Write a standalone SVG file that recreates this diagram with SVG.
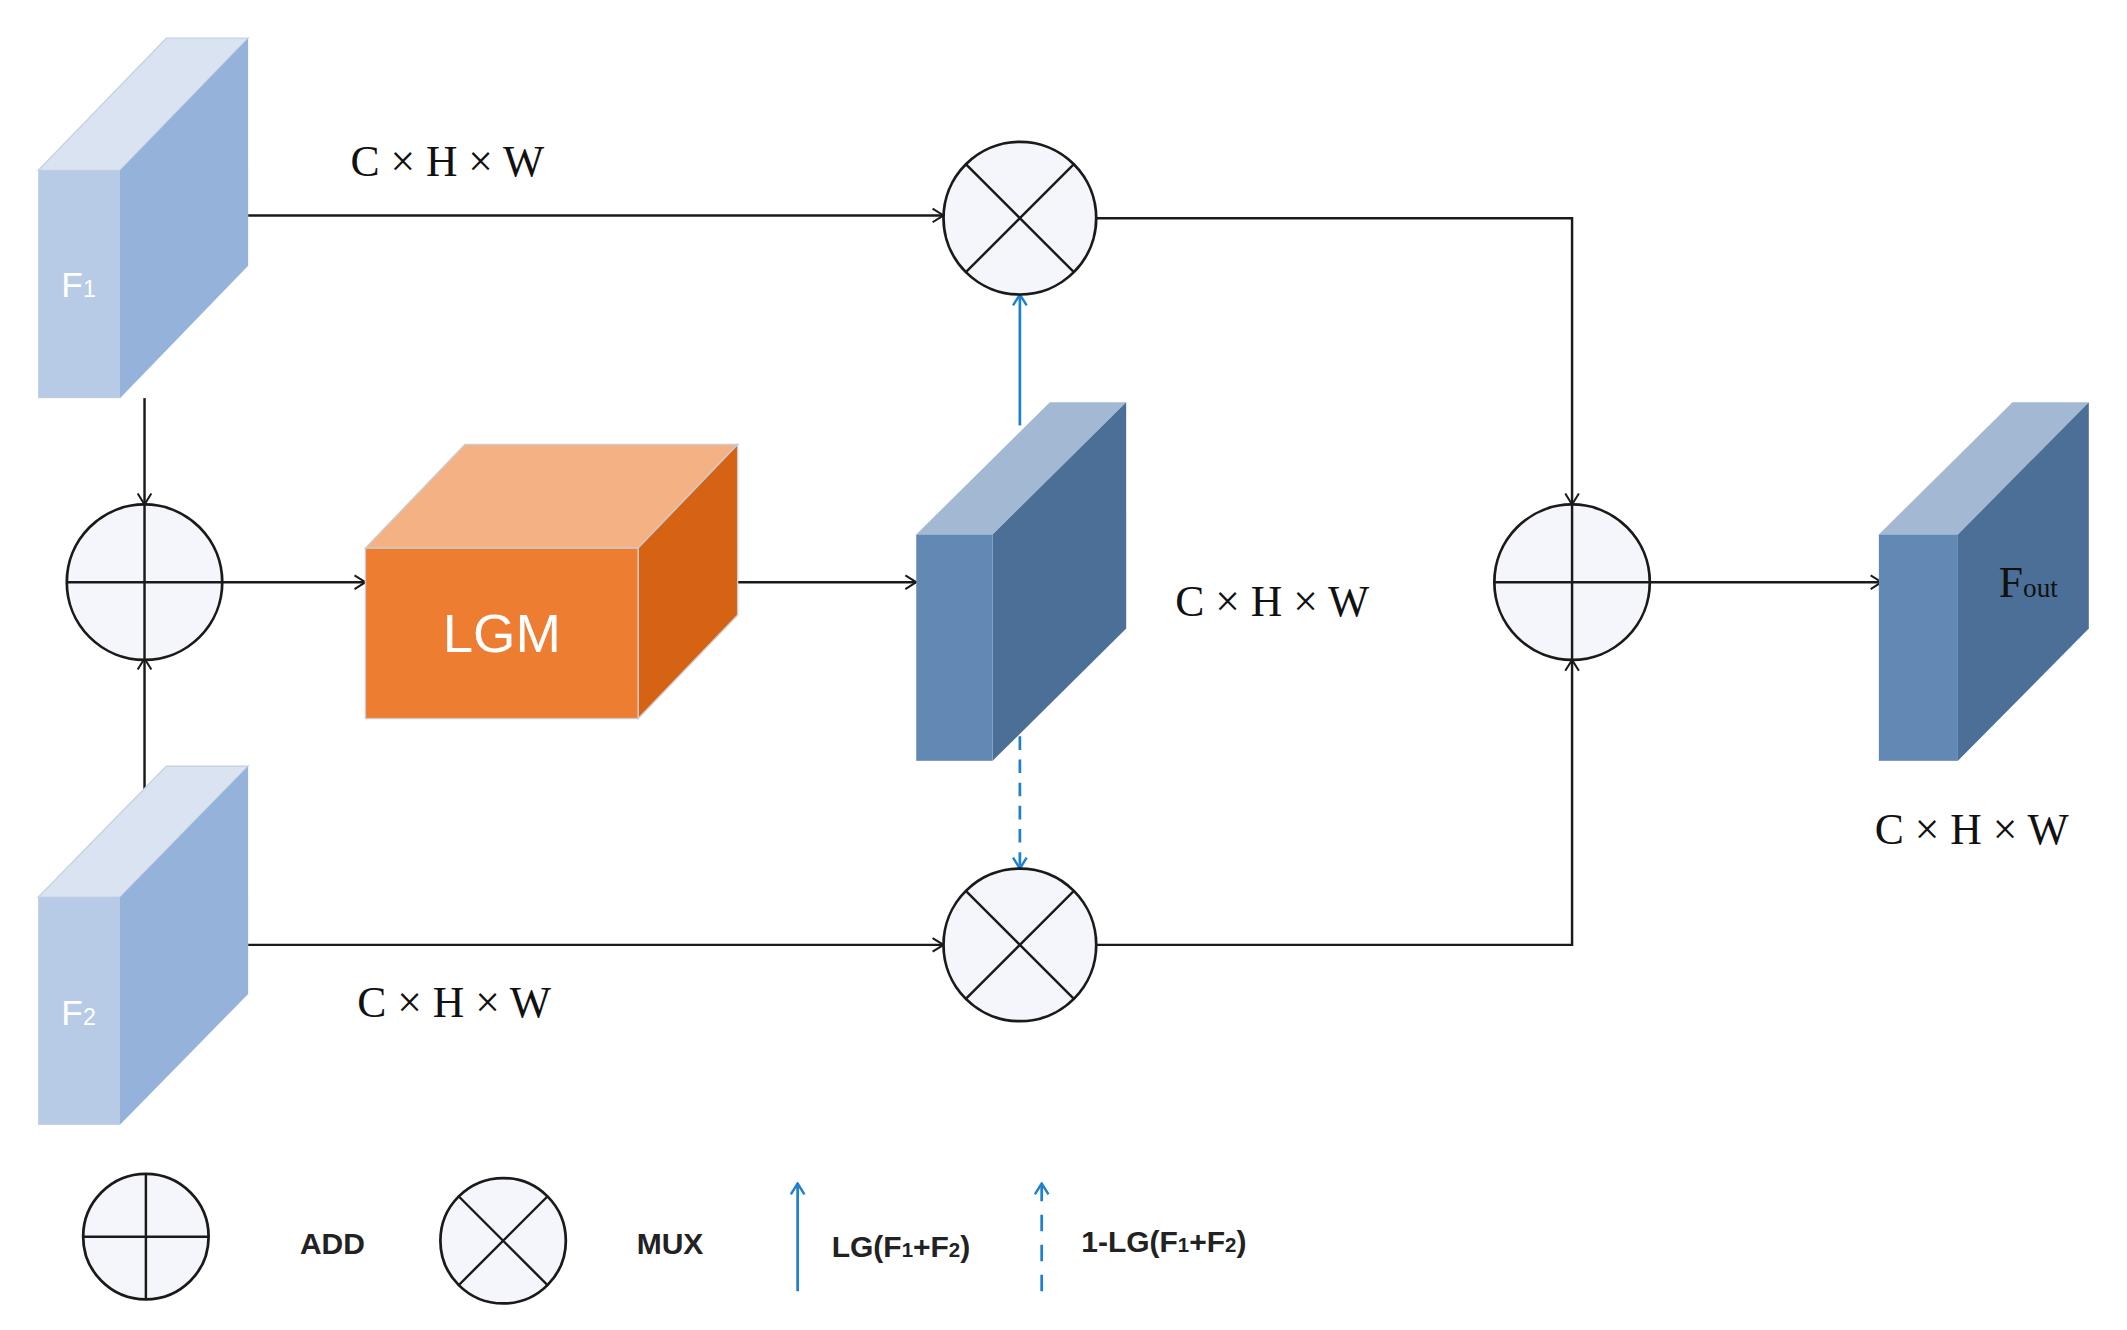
<svg xmlns="http://www.w3.org/2000/svg" width="2127" height="1330" viewBox="0 0 2127 1330">
<style>
.ln{fill:none;stroke:#1a1a1a;stroke-width:1.8}
.bl{fill:none;stroke:#2080D0;stroke-width:2}
.op{fill:#F4F6FB;stroke:#1a1a1a;stroke-width:2}
.dim{font-family:"Liberation Serif",serif;font-size:32px;fill:#111}
.lg{font-family:"Liberation Sans",sans-serif;font-size:22px;fill:#222;font-weight:bold}
.fl{font-family:"Liberation Sans",sans-serif;font-size:26px;fill:#fff}
</style>
<defs>
<marker id="a" markerWidth="10" markerHeight="12" refX="9" refY="6" orient="auto" markerUnits="userSpaceOnUse"><path d="M1,1 L9,6 L1,11" fill="none" stroke="#1a1a1a" stroke-width="1.5"/></marker>
<marker id="b" markerWidth="10" markerHeight="12" refX="9" refY="6" orient="auto" markerUnits="userSpaceOnUse"><path d="M1,1 L9,6 L1,11" fill="none" stroke="#2080D0" stroke-width="1.8"/></marker>
</defs>
<rect width="2127" height="1330" fill="#fff"/>
<g transform="scale(1.36346)">
<g id="connectors">
<path class="ln" d="M182,158 H692" marker-end="url(#a)"/>
<path class="ln" d="M182,693 H692" marker-end="url(#a)"/>
<path class="ln" d="M106,292 V370" marker-end="url(#a)"/>
<path class="ln" d="M106,585 V483" marker-end="url(#a)"/>
<path class="ln" d="M163,427 H268" marker-end="url(#a)"/>
<path class="ln" d="M541,427 H672" marker-end="url(#a)"/>
<path class="ln" d="M804,160 H1153 V370" marker-end="url(#a)"/>
<path class="ln" d="M804,693 H1153 V484" marker-end="url(#a)"/>
<path class="ln" d="M1210,427 H1380" marker-end="url(#a)"/>
<path class="bl" d="M748,312 V216" marker-end="url(#b)"/>
<path class="bl" d="M748,540 V637" stroke-dasharray="10,7" marker-end="url(#b)"/>
</g>
<g id="F1">
<polygon points="28,125 122,28 182,28 88,125" fill="#DAE3F1" stroke="#c8d2e0"/>
<polygon points="88,125 182,28 182,195 88,292" fill="#95B3DA"/>
<rect x="28" y="125" width="60" height="167" fill="#B7CBE6"/>
<text class="fl" x="45" y="218">F<tspan font-size="17">1</tspan></text>
</g>
<g id="F2">
<polygon points="28,658 122,562 182,562 88,658" fill="#DAE3F1" stroke="#c8d2e0"/>
<polygon points="88,658 182,562 182,729 88,825" fill="#95B3DA"/>
<rect x="28" y="658" width="60" height="167" fill="#B7CBE6"/>
<text class="fl" x="45" y="752">F<tspan font-size="17">2</tspan></text>
</g>
<g id="add1"><circle class="op" cx="106" cy="427" r="57"/><path class="ln" d="M49,427 H163 M106,370 V484"/></g>
<g id="LGM">
<polygon points="268,402 341,326 541,326 468,402" fill="#F4B183" stroke="#ccc"/>
<polygon points="468,402 541,326 541,451 468,527" fill="#D66214" stroke="#ccc"/>
<rect x="268" y="402" width="200" height="125" fill="#ED7D31" stroke="#ccc"/>
<text x="368" y="478" text-anchor="middle" font-family="Liberation Sans,sans-serif" font-size="40" fill="#fff">LGM</text>
</g>
<g id="gate">
<polygon points="672,392 770,295 826,295 728,392" fill="#A3B8D3"/>
<polygon points="728,392 826,295 826,461 728,558" fill="#4B6F97"/>
<rect x="672" y="392" width="56" height="166" fill="#6189B4"/>
</g>
<g id="mux1"><circle class="op" cx="748" cy="160" r="56"/><path class="ln" d="M708,120 L788,200 M788,120 L708,200"/></g>
<g id="mux2"><circle class="op" cx="748" cy="693" r="56"/><path class="ln" d="M708,653 L788,733 M788,653 L708,733"/></g>
<g id="add2"><circle class="op" cx="1153" cy="427" r="57"/><path class="ln" d="M1096,427 H1210 M1153,370 V484"/></g>
<g id="Fout">
<polygon points="1378,392 1476,295 1532,295 1436,392" fill="#A3B8D3"/>
<polygon points="1436,392 1532,295 1532,461 1436,558" fill="#4B6F97"/>
<rect x="1378" y="392" width="58" height="166" fill="#6189B4"/>
<text x="1466" y="438" font-family="Liberation Serif,serif" font-size="32" fill="#111">F<tspan font-size="20">out</tspan></text>
</g>
<g id="labels">
<text class="dim" x="257" y="129">C × H × W</text>
<text class="dim" x="862" y="452">C × H × W</text>
<text class="dim" x="1375" y="619">C × H × W</text>
<text class="dim" x="262" y="746">C × H × W</text>
</g>
<g id="legend">
<circle class="op" cx="107" cy="907" r="46"/><path class="ln" d="M61,907 H153 M107,861 V953"/>
<text class="lg" x="220" y="920">ADD</text>
<circle class="op" cx="369" cy="910" r="46"/><path class="ln" d="M336,877 L402,943 M402,877 L336,943"/>
<text class="lg" x="467" y="920">MUX</text>
<path class="bl" d="M585,947 V868" marker-end="url(#b)"/>
<text class="lg" x="610" y="922">LG(F<tspan font-size="15">1</tspan>+F<tspan font-size="15">2</tspan>)</text>
<path class="bl" d="M764,947 V868" stroke-dasharray="12,10" marker-end="url(#b)"/>
<text class="lg" x="793" y="918">1-LG(F<tspan font-size="15">1</tspan>+F<tspan font-size="15">2</tspan>)</text>
</g>
</g>
</svg>
